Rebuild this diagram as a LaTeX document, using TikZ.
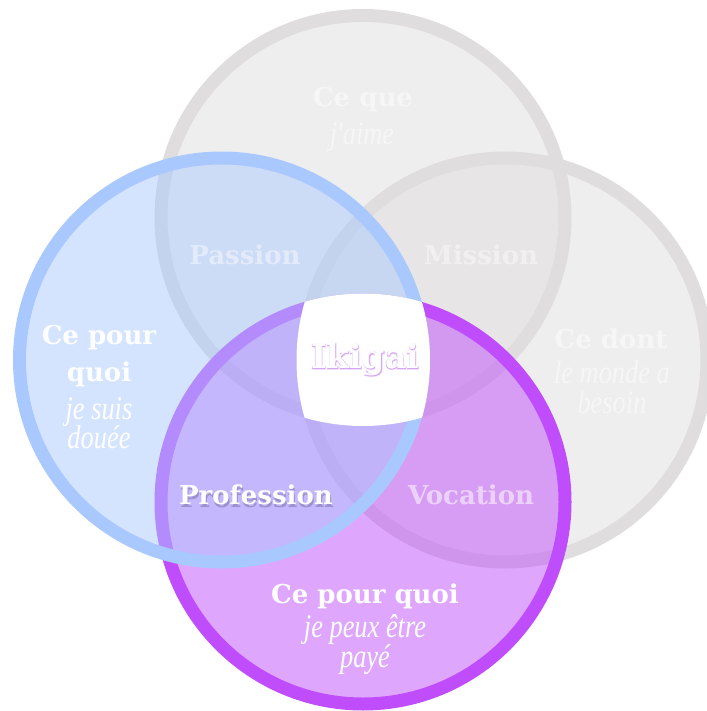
\documentclass[tikz,border=0pt]{standalone}
\usepackage{fontspec}
\newfontfamily\headf{DejaVu Serif}
\newfontfamily\glowf[FakeBold=5]{DejaVu Serif}
\newfontfamily\glowg[FakeBold=2.5]{DejaVu Serif}
\newfontfamily\scriptf[FakeStretch=0.8]{Liberation Serif}
\definecolor{grayring}{HTML}{DFDDDD}
\definecolor{bluering}{HTML}{A9C9FE}
\definecolor{purpring}{HTML}{C04DFC}
\definecolor{glowcol}{HTML}{C27AF2}
\tikzset{
  ring/.style={line width=13pt},
  head/.style={font=\headf\bfseries\fontsize{26}{28}\selectfont, text=white, inner sep=0pt},
  scr/.style={font=\scriptf\itshape\fontsize{33}{35}\selectfont, text=white, inner sep=0pt, text height=16pt, text depth=5pt},
  faint/.style={text opacity=0.45},
}
\begin{document}
\begin{tikzpicture}[x=1pt,y=-1pt]
\useasboundingbox (0,0) rectangle (706,711);
% top gray circle
\fill[grayring, fill opacity=0.5] (363,217.5) circle[radius=202pt];
\draw[grayring, ring] (363,217.5) circle[radius=202pt];
% right gray circle
\fill[grayring, fill opacity=0.5] (505,360) circle[radius=202pt];
\draw[grayring, ring] (505,360) circle[radius=202pt];
% bottom purple circle
\fill[purpring, fill opacity=0.5] (363,502) circle[radius=202pt];
\draw[purpring, ring] (363,502) circle[radius=202pt];
% left blue circle
\fill[bluering, fill opacity=0.5] (221.5,360) circle[radius=202pt];
\draw[bluering, ring] (221.5,360) circle[radius=202pt];
% ikigai center
\begin{scope}
\clip (363,217.5) circle[radius=208.5pt];
\clip (221.5,360) circle[radius=208.5pt];
\clip (505,360) circle[radius=208.5pt];
\fill[white] (363,502) circle[radius=208.5pt];
\end{scope}
% labels
\node[head, faint] (cq) at (363,100) {Ce que};
\node[scr, faint] (ja) at (362,139) {j'aime};
\node[head] (cp1) at (99,338) {Ce pour};
\node[head] (cp2) at (99,374) {quoi};
\node[scr] (js) at (99,414) {je suis};
\node[scr] (do) at (99,443) {douée};
\node[head, faint] (cd) at (611,339) {Ce dont};
\node[scr, faint] (lm) at (612,378) {le monde a};
\node[scr, faint] (be) at (612,408) {besoin};
\node[head] (cpq) at (365,596) {Ce pour quoi};
\node[scr] (jp) at (365,632) {je peux être};
\node[scr] (pa) at (365,662) {payé};
\node[head, faint] (pas) at (245,255) {Passion};
\node[head, faint] (mis) at (481,255) {Mission};
\node[head, text opacity=0.55] (voc) at (471,495) {Vocation};
\node[head, text=black, text opacity=0.2] (profs) at (257,498) {Profession};
\node[head] (prof) at (256,495) {Profession};
\node[head, font=\glowf\bfseries\fontsize{33}{35}\selectfont, text=glowcol, text opacity=0.22] (igg) at (365,360) {Ikigai};
\node[head, font=\glowg\bfseries\fontsize{33}{35}\selectfont, text=glowcol, text opacity=0.3] (igh) at (365,360) {Ikigai};
\node[head, font=\headf\bfseries\fontsize{33}{35}\selectfont] (iki) at (365,360) {Ikigai};
\end{tikzpicture}
\end{document}
